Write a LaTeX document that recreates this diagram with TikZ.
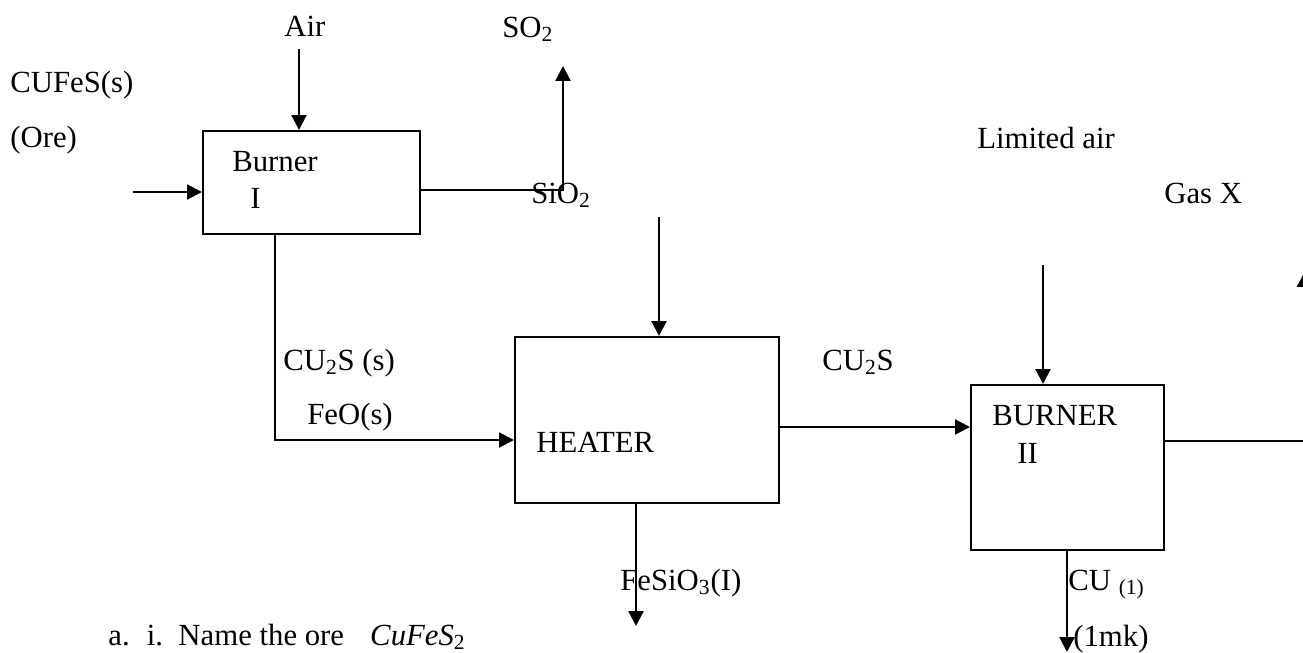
\documentclass[tikz,border=0pt]{standalone}
\usepackage{fontspec}
\setmainfont{Liberation Serif}
\usetikzlibrary{arrows.meta, positioning, calc}

\begin{document}
\begin{tikzpicture}[
    x=0.02cm, y=-0.02cm,
    every node/.style={font=\fontsize{17.5pt}{21pt}\selectfont, inner sep=0pt},
    arr/.style={-{Triangle[length=8.5pt, width=8.5pt]}, line width=1.3pt, color=black},
    unit/.style={rectangle, draw=black, line width=1.2pt},
    lab/.style={anchor=base west},
]
\useasboundingbox (0,0) rectangle (1303,653);

% ================================================================ boxes
\node[unit, minimum width=4.34cm, minimum height=2.06cm] (burner1) at (311.5,182.5) {};
\node[unit, minimum width=5.28cm, minimum height=3.32cm] (heater) at (647,420) {};
\node[unit, minimum width=3.86cm, minimum height=3.30cm] (burner2) at (1067.5,467.5) {};

\node[lab] (burner1a) at (232,171) {Burner};
\node[lab] (burner1b) at (250,208) {I};
\node[lab] (heatername) at (536,452) {HEATER};
\node[lab] (burner2a) at (992,425) {BURNER};
\node[lab] (burner2b) at (1017,463) {II};

% ================================================================ burner I
\node[lab] (ore) at (10,92) {CUFeS(s)};
\node[lab] (orenote) at (10,147) {(Ore)};
\coordinate (oreIn) at (133,192);
\draw[arr] (oreIn) -- (burner1.west |- oreIn);

\node[lab] (air) at (284,36) {Air};
\coordinate (airIn) at (299,49);
\draw[arr] (airIn) -- (airIn |- burner1.north);

\node[lab] (so2) at (502,37) {SO\textsubscript{2}};
\coordinate (so2Turn) at (563,190);
\coordinate (so2Out) at (563,66);
\draw[arr] (burner1.east |- so2Turn) -- (so2Turn) -- (so2Out);
\node[lab] (silica) at (531,203) {SiO\textsubscript{2}};

% ================================================================ heater
\coordinate (mixTurn) at (275,440);
\draw[arr] (burner1.south -| mixTurn) -- (mixTurn) -- (heater.west |- mixTurn);
\node[lab] (cu2s) at (283,370) {CU\textsubscript{2}S (s)};
\node[lab] (feo) at (307,424) {FeO(s)};

\coordinate (silicaIn) at (659,217);
\draw[arr] (silicaIn) -- (silicaIn |- heater.north);

\coordinate (slagOut) at (636,626);
\draw[arr] (heater.south -| slagOut) -- (slagOut);
\node[lab] (slag) at (620,590) {FeSiO\textsubscript{3}(I)};

\path ([yshift=-0.14cm]heater.east) coordinate (matteOut);
\draw[arr] (matteOut) -- (matteOut -| burner2.west);
\node[lab] (matte) at (822,370) {CU\textsubscript{2}S};

% ================================================================ burner II
\node[lab] (limair) at (977,148) {Limited air};
\coordinate (limAirIn) at (1043,265);
\draw[arr] (limAirIn) -- (limAirIn |- burner2.north);

\node[lab] (gasx) at (1164,203) {Gas X};
\coordinate (gasTurn) at (1304.5,441);
\coordinate (gasOut) at (1304.5,272);
\draw[arr] (burner2.east |- gasTurn) -- (gasTurn) -- (gasOut);

\coordinate (cuOut) at (1067,652);
\draw[arr] (burner2.south -| cuOut) -- (cuOut);
\node[lab] (cu) at (1068,590) {CU \textsubscript{(1)}};
\node[lab] (mark) at (1073,646) {(1mk)};

% ================================================================ question
\node[lab] (question) at (108,645)
    {a.\hspace{0.56em}i.\hspace{0.5em}Name the ore\hspace{0.85em}\textit{CuFeS}\textsubscript{2}};

\end{tikzpicture}
\end{document}
